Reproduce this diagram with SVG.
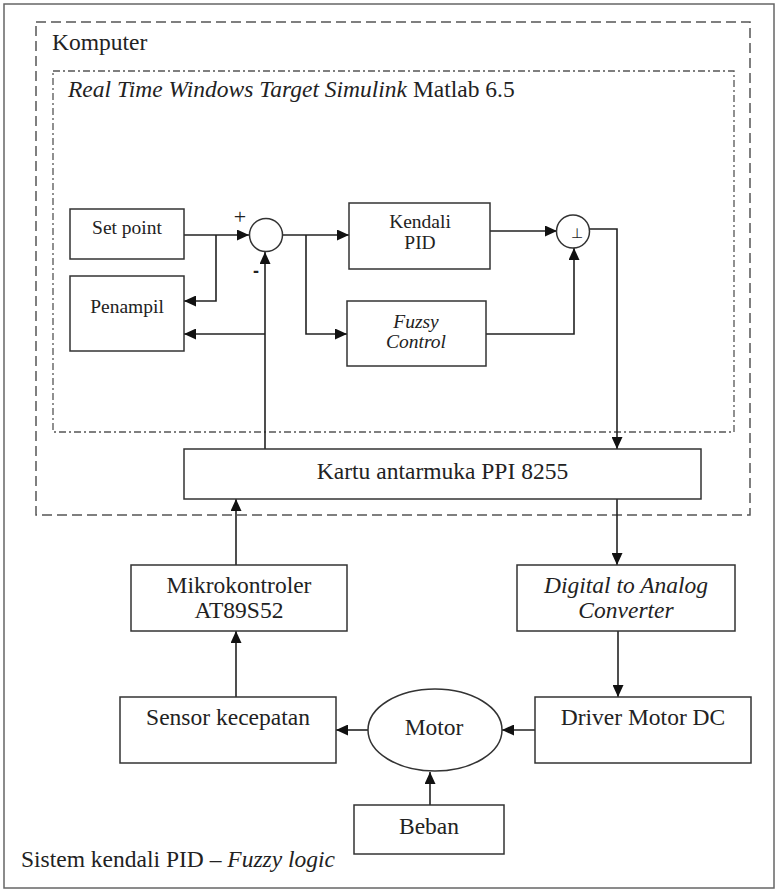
<svg xmlns="http://www.w3.org/2000/svg" width="778" height="890" viewBox="0 0 778 890">
<style>
.box{fill:#fff;stroke:#333;stroke-width:1.5}
.con{fill:none;stroke:#222;stroke-width:1.6}
.big{font-family:"Liberation Serif","Times New Roman",serif;font-size:23.5px;fill:#222}
.sm{font-family:"Liberation Serif","Times New Roman",serif;font-size:19.5px;fill:#222}
.it{font-style:italic}
</style>
<defs>
<marker id="ah" markerUnits="userSpaceOnUse" markerWidth="12" markerHeight="11" refX="12" refY="5.5" orient="auto">
<path d="M0,0 L12,5.5 L0,11 z" fill="#111"/>
</marker>
</defs>
<rect x="4" y="4" width="770" height="884" fill="#fff" stroke="#666" stroke-width="1.5"/>
<g id="komputer">
<rect x="36" y="22" width="714" height="493" fill="none" stroke="#555" stroke-width="1.5" stroke-dasharray="10,5"/>
<text class="big" x="52" y="50">Komputer</text>
</g>
<g id="rtwt">
<rect x="53" y="71" width="681" height="361" fill="none" stroke="#555" stroke-width="1.3" stroke-dasharray="7,3,2,3"/>
<text class="big" x="68" y="97"><tspan class="it">Real Time Windows Target Simulink</tspan> Matlab 6.5</text>
</g>
<g id="connectors">
<path class="con" d="M184,235 H249" marker-end="url(#ah)"/>
<path class="con" d="M216,235 V301 H184" marker-end="url(#ah)"/>
<path class="con" d="M265,449 V252" marker-end="url(#ah)"/>
<path class="con" d="M265,334 H184" marker-end="url(#ah)"/>
<path class="con" d="M282,235 H349" marker-end="url(#ah)"/>
<path class="con" d="M306,235 V334 H347" marker-end="url(#ah)"/>
<path class="con" d="M490,231 H557" marker-end="url(#ah)"/>
<path class="con" d="M486,334 H574 V248" marker-end="url(#ah)"/>
<path class="con" d="M589,229 H617 V449" marker-end="url(#ah)"/>
<path class="con" d="M617,499 V565" marker-end="url(#ah)"/>
<path class="con" d="M236,565 V499" marker-end="url(#ah)"/>
<path class="con" d="M236,697 V631" marker-end="url(#ah)"/>
<path class="con" d="M618,631 V697" marker-end="url(#ah)"/>
<path class="con" d="M535,730 H502" marker-end="url(#ah)"/>
<path class="con" d="M368,730 H336" marker-end="url(#ah)"/>
<path class="con" d="M430,805 V772" marker-end="url(#ah)"/>
</g>
<g id="setpoint">
<rect class="box" x="70" y="209" width="114" height="50"/>
<text class="sm" x="127" y="234" text-anchor="middle">Set point</text>
</g>
<g id="penampil">
<rect class="box" x="70" y="276" width="114" height="75"/>
<text class="sm" x="127" y="313" text-anchor="middle">Penampil</text>
</g>
<g id="sum1">
<circle cx="266" cy="235" r="16.5" fill="#fff" stroke="#333" stroke-width="1.5"/>
<text x="240" y="224" font-family="Liberation Serif, serif" font-size="22" text-anchor="middle" fill="#222">+</text>
<text x="256" y="277" font-family="Liberation Sans, sans-serif" font-size="18" font-weight="bold" text-anchor="middle" fill="#222">-</text>
</g>
<g id="pid">
<rect class="box" x="349" y="203" width="141" height="66"/>
<text class="sm" x="420" y="228" text-anchor="middle">Kendali</text>
<text class="sm" x="420" y="249" text-anchor="middle">PID</text>
</g>
<g id="fuzzy">
<rect class="box" x="347" y="301" width="139" height="65"/>
<text class="sm it" x="416" y="328" text-anchor="middle">Fuzsy</text>
<text class="sm it" x="416" y="348" text-anchor="middle">Control</text>
</g>
<g id="sum2">
<circle cx="573" cy="231.5" r="16.5" fill="#fff" stroke="#333" stroke-width="1.5"/>
<text x="577" y="238" font-family="DejaVu Sans, sans-serif" font-size="14" text-anchor="middle" fill="#222">⊥</text>
</g>
<g id="kartu">
<rect class="box" x="184" y="449" width="517" height="50"/>
<text class="big" x="442.5" y="479" text-anchor="middle">Kartu antarmuka PPI 8255</text>
</g>
<g id="mikro">
<rect class="box" x="131" y="565" width="216" height="66"/>
<text class="big" x="239" y="593" text-anchor="middle">Mikrokontroler</text>
<text class="big" x="239" y="618" text-anchor="middle">AT89S52</text>
</g>
<g id="dac">
<rect class="box" x="517" y="565" width="218" height="66"/>
<text class="big it" x="626" y="593" text-anchor="middle">Digital to Analog</text>
<text class="big it" x="626" y="618" text-anchor="middle">Converter</text>
</g>
<g id="sensor">
<rect class="box" x="120" y="697" width="216" height="66"/>
<text class="big" x="228" y="725" text-anchor="middle">Sensor kecepatan</text>
</g>
<g id="motor">
<ellipse cx="435" cy="730" rx="67" ry="41" fill="#fff" stroke="#333" stroke-width="1.5"/>
<text class="big" x="434" y="735" text-anchor="middle">Motor</text>
</g>
<g id="driver">
<rect class="box" x="535" y="697" width="216" height="66"/>
<text class="big" x="643" y="725" text-anchor="middle">Driver Motor DC</text>
</g>
<g id="beban">
<rect class="box" x="354" y="805" width="150" height="49"/>
<text class="big" x="429" y="834" text-anchor="middle">Beban</text>
</g>
<text class="big" x="21" y="867">Sistem kendali PID – <tspan class="it">Fuzzy logic</tspan></text>
</svg>
